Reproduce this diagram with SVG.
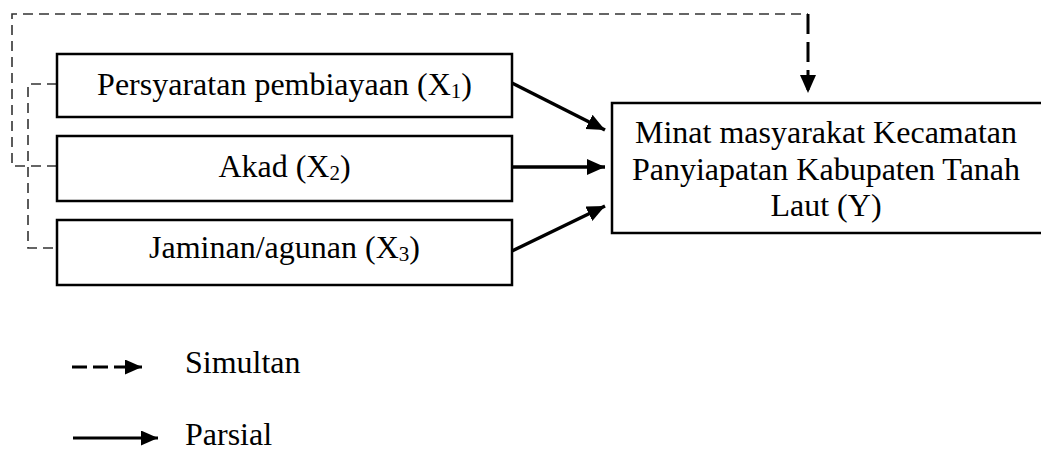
<svg xmlns="http://www.w3.org/2000/svg" width="1041" height="450" viewBox="0 0 1041 450">
  <style>
    .box { fill: #ffffff; stroke: #000000; stroke-width: 2.5; }
    .lbl { font-family: "Liberation Serif", "Times New Roman", serif; font-size: 32px; fill: #000000; }
    .sub { font-size: 21px; }
    .thin { fill: none; stroke: #333333; stroke-width: 1.6; stroke-dasharray: 10 6; }
    .thickdash { fill: none; stroke: #000000; stroke-width: 3; stroke-dasharray: 20 8; }
    .solid { fill: none; stroke: #000000; stroke-width: 3.5; }
  </style>
  <defs>
    <marker id="head" markerUnits="userSpaceOnUse" markerWidth="20" markerHeight="17" refX="18" refY="8" orient="auto">
      <path d="M0,0 L18,8 L0,16 Z" fill="#000000"/>
    </marker>
    <marker id="headS" markerUnits="userSpaceOnUse" markerWidth="18" markerHeight="16" refX="17" refY="7.5" orient="auto">
      <path d="M0,0 L17,7.5 L0,15 Z" fill="#000000"/>
    </marker>
  </defs>
  <rect width="1041" height="450" fill="#ffffff"/>

  <g id="connectors">
    <!-- simultaneous (dashed) -->
    <path class="thin" d="M57,166 H12 V14 H808"/>
    <path class="thin" d="M57,84 H28 V248 H57"/>
    <path class="thickdash" d="M808,14 V93" marker-end="url(#head)"/>
    <!-- partial (solid) -->
    <line class="solid" x1="512" y1="83" x2="605" y2="130" marker-end="url(#head)"/>
    <line class="solid" x1="512" y1="167" x2="605" y2="167" marker-end="url(#head)"/>
    <line class="solid" x1="512" y1="251" x2="605" y2="206" marker-end="url(#head)"/>
  </g>

  <g id="x1">
    <rect class="box" x="57" y="54" width="455" height="63"/>
    <text class="lbl" x="284.5" y="95" text-anchor="middle">Persyaratan pembiayaan (X<tspan class="sub" dy="3">1</tspan><tspan dy="-3">)</tspan></text>
  </g>
  <g id="x2">
    <rect class="box" x="57" y="136" width="455" height="65"/>
    <text class="lbl" x="284.5" y="177" text-anchor="middle">Akad (X<tspan class="sub" dy="3">2</tspan><tspan dy="-3">)</tspan></text>
  </g>
  <g id="x3">
    <rect class="box" x="57" y="220" width="455" height="65"/>
    <text class="lbl" x="284.5" y="258" text-anchor="middle">Jaminan/agunan (X<tspan class="sub" dy="3">3</tspan><tspan dy="-3">)</tspan></text>
  </g>
  <g id="y">
    <rect class="box" x="612" y="103" width="432" height="130"/>
    <text class="lbl" x="826" y="143" text-anchor="middle">Minat masyarakat Kecamatan</text>
    <text class="lbl" x="826" y="180" text-anchor="middle">Panyiapatan Kabupaten Tanah</text>
    <text class="lbl" x="826" y="216" text-anchor="middle">Laut (Y)</text>
  </g>

  <g id="legend">
    <line x1="72" y1="367" x2="142" y2="367" stroke="#000000" stroke-width="3" stroke-dasharray="15 6" marker-end="url(#headS)"/>
    <text class="lbl" x="185" y="373">Simultan</text>
    <line x1="73" y1="438" x2="158" y2="438" stroke="#000000" stroke-width="3" marker-end="url(#headS)"/>
    <text class="lbl" x="185" y="445">Parsial</text>
  </g>
</svg>
